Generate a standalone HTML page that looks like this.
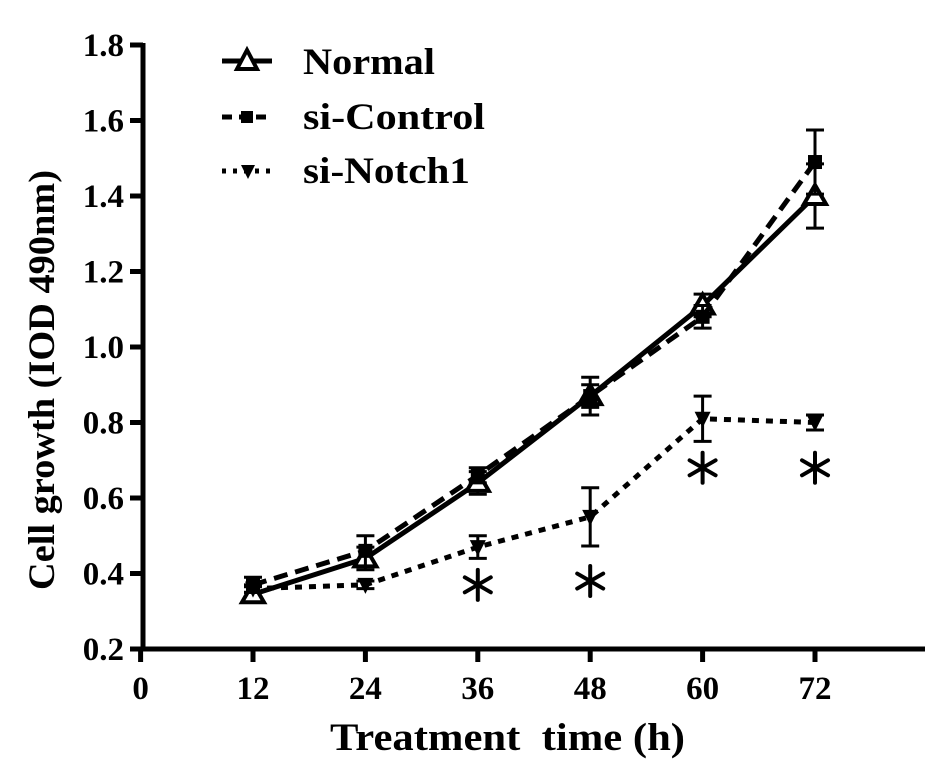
<!DOCTYPE html>
<html><head><meta charset="utf-8"><style>
html,body{margin:0;padding:0;background:#fff;}
svg{display:block;font-family:"Liberation Serif",serif;font-weight:bold;}
</style></head><body>
<svg id="chart" width="945" height="781" viewBox="0 0 945 781" xmlns="http://www.w3.org/2000/svg">
<g id="axes"></g>
<g id="plot"></g>
<g id="legend">
  <line x1="222" y1="61" x2="272" y2="61" stroke="#000" stroke-width="5"/>
  <polygon points="247,50 237,69 257,69" fill="#fff" stroke="#000" stroke-width="4"/>
  <text x="303" y="74" font-size="37" textLength="132" lengthAdjust="spacingAndGlyphs">Normal</text>
  <line x1="222" y1="117" x2="272" y2="117" stroke="#000" stroke-width="5" stroke-dasharray="10,7"/>
  <rect x="241" y="111" width="12" height="12" fill="#000"/>
  <text x="303" y="129" font-size="37" textLength="182" lengthAdjust="spacingAndGlyphs">si-Control</text>
  <line x1="222" y1="171" x2="272" y2="171" stroke="#000" stroke-width="5" stroke-dasharray="4,7"/>
  <polygon points="241,165 255,165 248,179" fill="#000"/>
  <text x="303" y="183" font-size="37" textLength="167" lengthAdjust="spacingAndGlyphs">si-Notch1</text>
</g>
<text x="330" y="750" font-size="39" textLength="355" lengthAdjust="spacingAndGlyphs" style="white-space:pre">Treatment  time (h)</text>
<text transform="translate(54,380) rotate(-90)" font-size="37" text-anchor="middle" textLength="420" lengthAdjust="spacingAndGlyphs">Cell growth (IOD 490nm)</text>
</svg>
<script>
const xTicks=[0,12,24,36,48,60,72];
const yTicks=[0.2,0.4,0.6,0.8,1.0,1.2,1.4,1.6,1.8];
const yTickLabels=["0.2","0.4","0.6","0.8","1.0","1.2","1.4","1.6","1.8"];
const times=[12,24,36,48,60,72];
const normal=[0.345,0.44,0.64,0.87,1.11,1.40];
const normalErr=[0.02,0.03,0.03,0.03,0.03,0.085];
const control=[0.37,0.46,0.66,0.87,1.08,1.49];
const controlErr=[0.02,0.04,0.02,0.05,0.03,0.085];
const notch=[0.36,0.37,0.47,0.55,0.81,0.80];
const notchErr=[0.01,0.01,0.03,0.077,0.06,0.02];
const starTimes=[36,48,60,72];
const starValues=[0.37,0.38,0.68,0.68];

const NS="http://www.w3.org/2000/svg";
function xs(v){return 253+(v-12)*(815-253)/60;}
function ys(v){return 649-(v-0.2)*(649-45)/1.6;}
function mk(tag,attrs,parent){const e=document.createElementNS(NS,tag);for(const k in attrs)e.setAttribute(k,attrs[k]);parent.appendChild(e);return e;}
const axes=document.getElementById('axes'),plot=document.getElementById('plot');
let a=mk('line',{x1:143,y1:43,x2:143,y2:651,stroke:'#000','stroke-width':5},axes);


a=mk('line',{x1:141,y1:649,x2:925,y2:649,stroke:'#000','stroke-width':5},axes);


yTicks.forEach((t,i)=>{
  mk('line',{x1:130,y1:ys(t),x2:143,y2:ys(t),stroke:'#000','stroke-width':5},axes);
  const tx=mk('text',{x:124,y:ys(t)+11,'font-size':33,'text-anchor':'end'},axes);
  tx.textContent=yTickLabels[i];
  
  
});
xTicks.forEach(t=>{
  mk('line',{x1:xs(t),y1:649,x2:xs(t),y2:662,stroke:'#000','stroke-width':5},axes);
  const tx=mk('text',{x:xs(t),y:699,'font-size':33,'text-anchor':'middle'},axes);
  tx.textContent=String(t);
  
  
});
function series(vals,errs,name,dash,marker){
  const g=mk('g',{},plot);
  
  
  mk('polyline',{points:vals.map((v,i)=>xs(times[i])+','+ys(v)).join(' '),fill:'none',stroke:'#000','stroke-width':5,'stroke-dasharray':dash},g);
  vals.forEach((v,i)=>{
    const x=xs(times[i]),t=ys(v+errs[i]),b=ys(v-errs[i]);
    mk('path',{d:`M${x},${t}V${b}M${x-9},${t}H${x+9}M${x-9},${b}H${x+9}`,stroke:'#000','stroke-width':3,fill:'none'},g);
    let m;
    const y=ys(v);
    if(marker==='tri') m=mk('polygon',{points:`${x},${y-11} ${x-11},${y+8} ${x+11},${y+8}`,fill:'#fff',stroke:'#000','stroke-width':4},g);
    else if(marker==='sq') m=mk('rect',{x:x-7,y:y-7,width:14,height:14,fill:'#000'},g);
    else m=mk('polygon',{points:`${x-8},${y-7} ${x+8},${y-7} ${x},${y+9}`,fill:'#000'},g);
    
    
  });
}
series(normal,normalErr,'normal','none','tri');
series(control,controlErr,'si-control','14,8','sq');
series(notch,notchErr,'si-notch1','7,7','inv');
starTimes.forEach((t,i)=>{
  const cx=xs(t),cy=ys(starValues[i]),r=15;
  const g=mk('g',{stroke:'#000','stroke-width':4,'stroke-linecap':'round'},plot);
  
  
  for(let k=0;k<3;k++){
    const ang=Math.PI/2+k*Math.PI/3;
    const dx=r*Math.cos(ang),dy=r*Math.sin(ang);
    mk('line',{x1:cx-dx,y1:cy-dy,x2:cx+dx,y2:cy+dy},g);
  }
});
</script>
</body></html>
